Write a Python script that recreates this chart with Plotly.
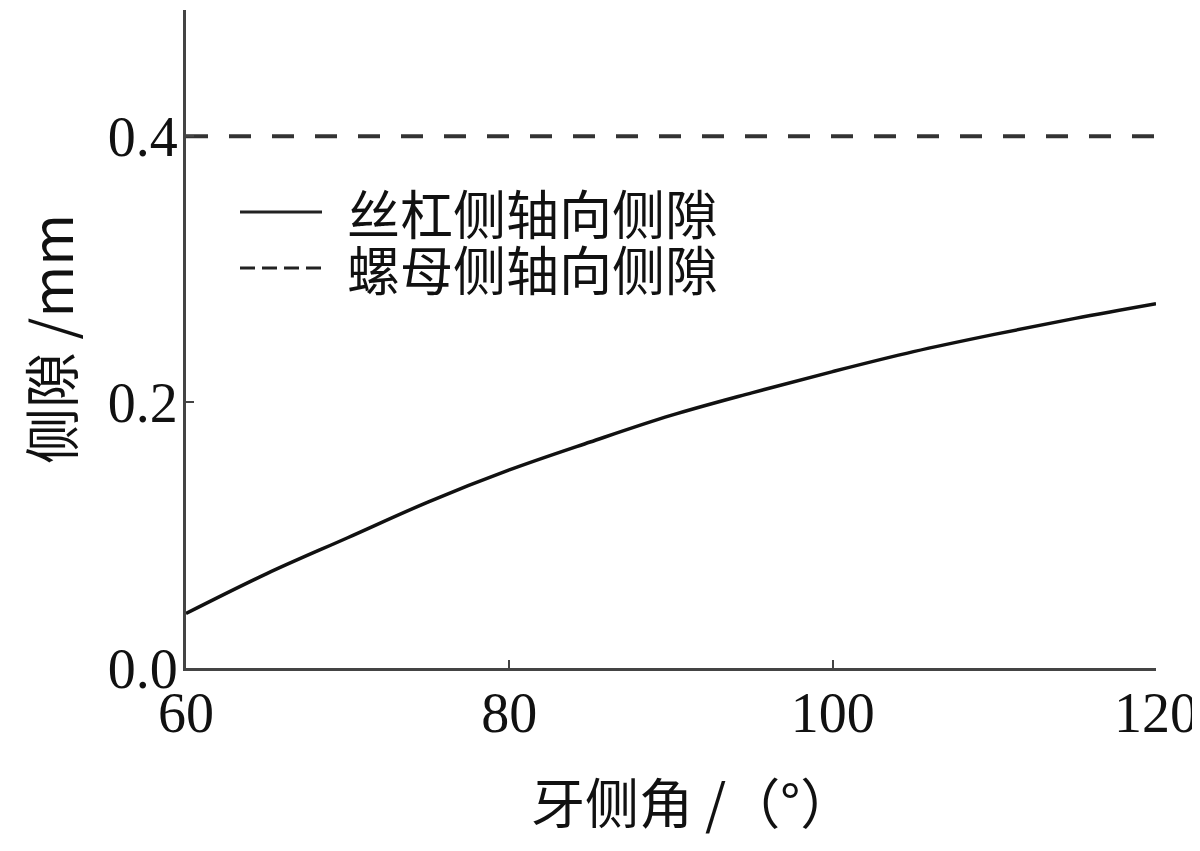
import plotly.graph_objects as go

# Data
angle = [60, 65, 70, 75, 80, 85, 90, 95, 100, 105, 110, 115, 120]
screw_gap = [0.041, 0.071, 0.098, 0.125, 0.149, 0.170, 0.190, 0.207, 0.223, 0.238, 0.251, 0.263, 0.274]
nut_angle = [60, 120]
nut_gap = [0.4, 0.4]

series_names = ["丝杠侧轴向侧隙", "螺母侧轴向侧隙"]
x_ticks = [60, 80, 100, 120]
y_ticks = [0.0, 0.2, 0.4]
x_title = "牙侧角 /（°）"
y_title = "侧隙 /mm"

CJK = "Noto Sans CJK SC"
SERIF = "Liberation Serif"

# page body adds an 8px offset; compensate so the plot lands where the reference has it
OFF = 8
W, H = 1200 - OFF, 851 - OFF
L, T = 186 - OFF, 10 - OFF
R = W + OFF - 1156
B = H + OFF - 668
PW, PH = W - L - R, H - T - B


def px_x(p):
    return (p - OFF - L) / PW


def px_y(p):
    return (H + OFF - B - p) / PH


fig = go.Figure()
fig.add_trace(go.Scatter(x=angle, y=screw_gap, mode="lines", name=series_names[0],
                         line=dict(color="#111111", width=3.5, shape="spline"),
                         showlegend=False))
fig.add_trace(go.Scatter(x=nut_angle, y=nut_gap, mode="lines", name=series_names[1],
                         line=dict(color="#333333", width=4, dash="22px,21px"),
                         showlegend=False))

axis_common = dict(showgrid=False, zeroline=False, showline=True, linecolor="#444444",
                   linewidth=3, ticks="inside", ticklen=8, tickwidth=2, tickcolor="#444444",
                   automargin=False,
                   tickfont=dict(family=SERIF, size=56, color="#111111"))

fig.update_xaxes(range=[60, 120], tickvals=x_ticks, ticktext=[str(v) for v in x_ticks],
                 ticklabelstandoff=-6, **axis_common)
fig.update_yaxes(range=[0, 0.495], tickvals=y_ticks, ticktext=[f"{v:.1f}" for v in y_ticks],
                 ticklabelstandoff=-6,
                 title=dict(text=y_title, standoff=30,
                            font=dict(family=CJK, size=56, color="#111111")),
                 **axis_common)

# manual legend
legend_rows = [(212, "solid"), (268, "15px,7px")]
shapes = []
annotations = []
for (py, dash), name in zip(legend_rows, series_names):
    shapes.append(dict(type="line", xref="paper", yref="paper",
                       x0=px_x(240), x1=px_x(322), y0=px_y(py), y1=px_y(py),
                       line=dict(color="#222222", width=3, dash=dash)))
    annotations.append(dict(text=name, xref="paper", yref="paper",
                            x=px_x(345), y=px_y(py), xanchor="left", yanchor="middle",
                            showarrow=False,
                            font=dict(family=CJK, size=53, color="#111111")))

annotations += [
    dict(text=x_title, xref="paper", yref="paper", x=px_x(692), y=px_y(800),
         xanchor="center", yanchor="middle", showarrow=False,
         font=dict(family=CJK, size=54, color="#111111")),
]

fig.update_layout(
    width=W, height=H,
    margin=dict(l=L, r=R, t=T, b=B),
    plot_bgcolor="white", paper_bgcolor="white",
    showlegend=False,
    shapes=shapes,
    annotations=annotations,
)

fig.write_html("out.html")
